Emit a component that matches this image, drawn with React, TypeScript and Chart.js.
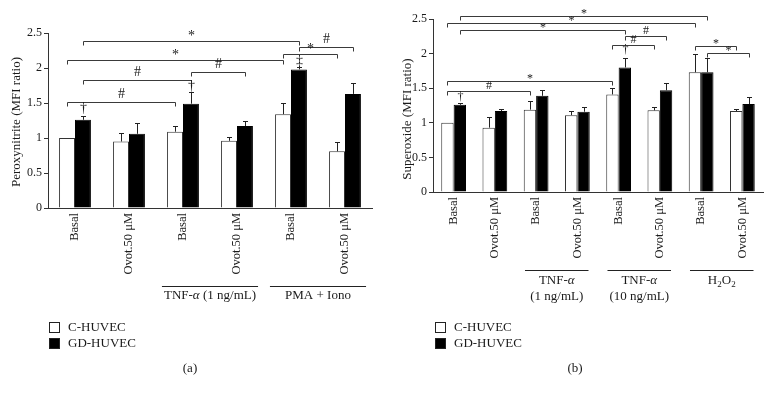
import React, { useEffect, useRef } from "react";
import { Chart, registerables } from "chart.js";
Chart.register(...registerables);

const FONT = "'Liberation Serif','Times New Roman',Times,serif";
const INK = "#1a1a1a";
const AXIS = "#333";
const BRK = "#3a3a3a";

// ---------- Panel (a): Peroxynitrite ----------
const categoriesA = ["Basal", "Ovot.50 μM", "Basal", "Ovot.50 μM", "Basal", "Ovot.50 μM"];
const cHuvecA = [1.0, 0.95, 1.09, 0.96, 1.34, 0.81];
const cHuvecErrA = [0, 0.12, 0.08, 0.05, 0.16, 0.13];
const gdHuvecA = [1.26, 1.06, 1.49, 1.17, 1.98, 1.63];
const gdHuvecErrA = [0.06, 0.16, 0.17, 0.07, 0.04, 0.15];
const yTicksA = [0, 0.5, 1, 1.5, 2, 2.5];
const bracketsA = [
  { from: [1, 0], to: [1, 4], y: 2.39, mark: "*" },
  { from: [1, 4], to: [1, 5], y: 2.3, mark: "#" },
  { from: [0, 4], to: [0, 5], y: 2.2, mark: "*" },
  { from: [0, 0], to: [0, 4], y: 2.11, mark: "*" },
  { from: [1, 2], to: [1, 3], y: 1.94, mark: "#" },
  { from: [1, 0], to: [1, 2], y: 1.83, mark: "#" },
  { from: [0, 0], to: [0, 2], y: 1.51, mark: "#" },
];
const symbolsA = [
  { at: [1, 0], y: 1.43, mark: "†" },
  { at: [1, 2], y: 1.74, mark: "†" },
  { at: [1, 4], y: 2.1, mark: "‡" },
];
const groupsA = [
  { from: 2, to: 3, lines: [[{ t: "TNF-" }, { t: "α", i: true }, { t: " (1 ng/mL)" }]] },
  { from: 4, to: 5, lines: [[{ t: "PMA + Iono" }]] },
];

// ---------- Panel (b): Superoxide ----------
const categoriesB = ["Basal", "Ovot.50 μM", "Basal", "Ovot.50 μM", "Basal", "Ovot.50 μM", "Basal", "Ovot.50 μM"];
const cHuvecB = [1.0, 0.93, 1.19, 1.11, 1.41, 1.18, 1.73, 1.17];
const cHuvecErrB = [0, 0.16, 0.12, 0.06, 0.1, 0.05, 0.26, 0.03];
const gdHuvecB = [1.26, 1.17, 1.39, 1.16, 1.8, 1.47, 1.73, 1.27];
const gdHuvecErrB = [0.02, 0.03, 0.09, 0.07, 0.14, 0.1, 0.21, 0.11];
const yTicksB = [0, 0.5, 1, 1.5, 2, 2.5];
const bracketsB = [
  { from: [1, 0], to: [1, 6], y: 2.55, mark: "*" },
  { from: [0, 0], to: [0, 6], y: 2.44, mark: "*" },
  { from: [1, 0], to: [1, 4], y: 2.34, mark: "*" },
  { from: [1, 4], to: [1, 5], y: 2.26, mark: "#" },
  { from: [0, 4], to: [0, 5], y: 2.12, mark: "#" },
  { from: [0, 6], to: [0, 7], y: 2.11, mark: "*" },
  { from: [1, 6], to: [1, 7], y: 2.01, mark: "*" },
  { from: [0, 0], to: [0, 4], y: 1.6, mark: "*" },
  { from: [0, 0], to: [0, 2], y: 1.46, mark: "#" },
];
const symbolsB = [
  { at: [1, 0], y: 1.37, mark: "†" },
  { at: [1, 4], y: 2.05, mark: "†" },
];
const groupsB = [
  { from: 2, to: 3, lines: [[{ t: "TNF-" }, { t: "α", i: true }], [{ t: "(1 ng/mL)" }]] },
  { from: 4, to: 5, lines: [[{ t: "TNF-" }, { t: "α", i: true }], [{ t: "(10 ng/mL)" }]] },
  { from: 6, to: 7, lines: [[{ t: "H" }, { t: "2", s: true }, { t: "O" }, { t: "2", s: true }]] },
];

const seriesNames = ["C-HUVEC", "GD-HUVEC"];

type Seg = { t: string; i?: boolean; s?: boolean };

function drawSegs(ctx: CanvasRenderingContext2D, segs: Seg[], cx: number, cy: number, size: number) {
  const fonts = segs.map((s) => `${s.i ? "italic " : ""}${s.s ? Math.round(size * 0.72) : size}px ${FONT}`);
  const widths = segs.map((s, k) => {
    ctx.font = fonts[k];
    return ctx.measureText(s.t).width;
  });
  const total = widths.reduce((a, b) => a + b, 0);
  let x = cx - total / 2;
  ctx.textAlign = "left";
  ctx.textBaseline = "middle";
  segs.forEach((s, k) => {
    ctx.font = fonts[k];
    ctx.fillText(s.t, x, cy + (s.s ? size * 0.3 : 0));
    x += widths[k];
  });
}

function overlay(cfg: any) {
  return {
    id: "overlay",
    afterDatasetsDraw(chart: any) {
      const ctx: CanvasRenderingContext2D = chart.ctx;
      const ys = chart.scales.y;
      const xs = chart.scales.x;
      const metas = [chart.getDatasetMeta(0), chart.getDatasetMeta(1)];
      const vals = [cfg.c, cfg.gd];
      const errs = [cfg.cErr, cfg.gdErr];
      const bx = (d: number, i: number) => Math.round(metas[d].data[i].x) + 0.5;
      ctx.save();
      // error bars
      ctx.strokeStyle = "#222";
      ctx.lineWidth = 1;
      for (let d = 0; d < 2; d++) {
        for (let i = 0; i < vals[d].length; i++) {
          if (!errs[d][i]) continue;
          const x = bx(d, i);
          const y0 = ys.getPixelForValue(vals[d][i]);
          const y1 = Math.round(ys.getPixelForValue(vals[d][i] + errs[d][i])) + 0.5;
          ctx.beginPath();
          ctx.moveTo(x, y0);
          ctx.lineTo(x, y1);
          ctx.moveTo(x - 2.5, y1);
          ctx.lineTo(x + 2.5, y1);
          ctx.stroke();
        }
      }
      // brackets
      ctx.strokeStyle = BRK;
      ctx.fillStyle = INK;
      for (const b of cfg.brackets) {
        const x1 = bx(b.from[0], b.from[1]);
        const x2 = bx(b.to[0], b.to[1]);
        const y = Math.round(ys.getPixelForValue(b.y)) + 0.5;
        ctx.beginPath();
        ctx.moveTo(x1, y + 4);
        ctx.lineTo(x1, y);
        ctx.lineTo(x2, y);
        ctx.lineTo(x2, y + 4);
        ctx.stroke();
        ctx.font = `${cfg.markSize}px ${FONT}`;
        ctx.textAlign = "center";
        ctx.textBaseline = "middle";
        const off = b.mark === "*" ? cfg.starOff : cfg.hashOff;
        ctx.fillText(b.mark, (x1 + x2) / 2, y - off);
      }
      // daggers
      for (const s of cfg.symbols) {
        const x = bx(s.at[0], s.at[1]);
        ctx.font = `${cfg.markSize}px ${FONT}`;
        ctx.textAlign = "center";
        ctx.textBaseline = "middle";
        ctx.fillText(s.mark, x, ys.getPixelForValue(s.y));
      }
      // group labels
      const catW = (xs.right - xs.left) / cfg.categories.length;
      for (const g of cfg.groups) {
        const xa = xs.getPixelForValue(g.from) - catW * cfg.groupInset;
        const xb = xs.getPixelForValue(g.to) + catW * cfg.groupInset;
        ctx.strokeStyle = "#222";
        ctx.beginPath();
        ctx.moveTo(xa, cfg.groupLineY + 0.5);
        ctx.lineTo(xb, cfg.groupLineY + 0.5);
        ctx.stroke();
        g.lines.forEach((ln: Seg[], k: number) => {
          drawSegs(ctx, ln, (xa + xb) / 2, cfg.groupTextY + k * 16, 13);
        });
      }
      // y title
      ctx.save();
      ctx.translate(cfg.titleX, cfg.titleY);
      ctx.rotate(-Math.PI / 2);
      ctx.font = `${cfg.titleSize}px ${FONT}`;
      ctx.textAlign = "center";
      ctx.textBaseline = "middle";
      ctx.fillText(cfg.title, 0, 0);
      ctx.restore();
      // legend
      const lx = cfg.legendX;
      seriesNames.forEach((nm, k) => {
        const ly = cfg.legendY + k * 16;
        ctx.fillStyle = k === 0 ? "#fff" : "#000";
        ctx.fillRect(lx, ly, 11, 11);
        ctx.strokeStyle = "#222";
        ctx.strokeRect(lx + 0.5, ly + 0.5, 10, 10);
        ctx.fillStyle = INK;
        ctx.font = `13px ${FONT}`;
        ctx.textAlign = "left";
        ctx.textBaseline = "middle";
        ctx.fillText(nm, lx + 19, ly + 6);
      });
      // panel letter
      ctx.font = `13px ${FONT}`;
      ctx.textAlign = "center";
      ctx.fillText(cfg.letter, cfg.letterX, 369);
      ctx.restore();
    },
  };
}

function Panel({ cfg }: { cfg: any }) {
  const ref = useRef<HTMLCanvasElement>(null);
  useEffect(() => {
    const chart = new Chart(ref.current as HTMLCanvasElement, {
      type: "bar",
      data: {
        labels: cfg.categories,
        datasets: [
          { label: seriesNames[0], data: cfg.c, backgroundColor: "#fff", borderColor: "#333", borderWidth: 1 },
          { label: seriesNames[1], data: cfg.gd, backgroundColor: "#000", borderColor: "#000", borderWidth: 1 },
        ],
      },
      options: {
        responsive: false,
        animation: false,
        devicePixelRatio: 1,
        layout: { padding: { left: 0, top: cfg.padTop, right: cfg.padRight, bottom: 0 } },
        datasets: { bar: { categoryPercentage: cfg.catPct, barPercentage: 1 } },
        plugins: { legend: { display: false }, tooltip: { enabled: false } },
        scales: {
          x: {
            grid: { display: false, drawTicks: false },
            border: { display: true, color: AXIS, width: 1 },
            ticks: {
              autoSkip: false,
              maxRotation: 90,
              minRotation: 90,
              padding: 5,
              color: INK,
              font: { family: FONT, size: 12.5 },
            },
            afterFit: (s: any) => {
              s.height = cfg.xHeight;
            },
          },
          y: {
            min: 0,
            max: 2.5,
            afterBuildTicks: (s: any) => {
              s.ticks = cfg.yTicks.map((v: number) => ({ value: v }));
            },
            grid: { drawOnChartArea: false, drawTicks: true, tickLength: 4, color: AXIS },
            border: { display: true, color: AXIS, width: 1 },
            ticks: { padding: 2, color: INK, font: { family: FONT, size: 12 }, callback: (v: any) => String(v) },
            afterFit: (s: any) => {
              s.width = cfg.yWidth;
            },
          },
        },
      } as any,
      plugins: [overlay(cfg)],
    });
    return () => chart.destroy();
  }, []);
  return <canvas ref={ref} width={386} height={395} style={{ display: "block" }} />;
}

const cfgA = {
  categories: categoriesA,
  c: cHuvecA,
  cErr: cHuvecErrA,
  gd: gdHuvecA,
  gdErr: gdHuvecErrA,
  yTicks: yTicksA,
  brackets: bracketsA,
  symbols: symbolsA,
  groups: groupsA,
  padTop: 33,
  padRight: 14,
  yWidth: 48,
  xHeight: 187,
  catPct: 0.59,
  groupInset: 0.39,
  groupLineY: 286,
  groupTextY: 296,
  title: "Peroxynitrite (MFI ratio)",
  titleX: 17,
  titleY: 122,
  titleSize: 13,
  markSize: 14,
  starOff: 5,
  hashOff: 8,
  legendX: 49,
  legendY: 322,
  letter: "(a)",
  letterX: 190,
};

const cfgB = {
  categories: categoriesB,
  c: cHuvecB,
  cErr: cHuvecErrB,
  gd: gdHuvecB,
  gdErr: gdHuvecErrB,
  yTicks: yTicksB,
  brackets: bracketsB,
  symbols: symbolsB,
  groups: groupsB,
  padTop: 19,
  padRight: 9,
  yWidth: 47,
  xHeight: 203,
  catPct: 0.6,
  groupInset: 0.27,
  groupLineY: 270,
  groupTextY: 281,
  title: "Superoxide (MFI ratio)",
  titleX: 22,
  titleY: 119,
  titleSize: 13,
  markSize: 12,
  starOff: 3,
  hashOff: 6,
  legendX: 49,
  legendY: 322,
  letter: "(b)",
  letterX: 189,
};

export default function App() {
  useEffect(() => {
    document.body.style.margin = "0";
    document.body.style.background = "#fff";
  }, []);
  return (
    <div style={{ display: "flex", width: 772, height: 395, background: "#fff" }}>
      <Panel cfg={cfgA} />
      <Panel cfg={cfgB} />
    </div>
  );
}
